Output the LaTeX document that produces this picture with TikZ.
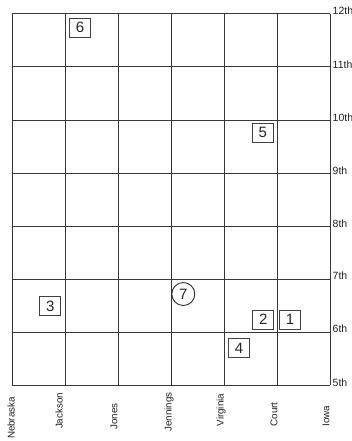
\documentclass[tikz,border=0pt]{standalone}
\usepackage{fontspec}
\setmainfont{Liberation Sans}
\begin{document}
\begin{tikzpicture}[x=1pt,y=-1pt,
  gridline/.style={draw=black!78, line width=1pt},
  numbox/.style={draw=black!75, line width=0.9pt, rectangle, minimum width=21pt, minimum height=19pt, inner sep=0pt, font=\fontsize{15}{15}\selectfont, text=black!85},
  numcirc/.style={draw=black!82, line width=0.9pt, circle, minimum size=23pt, inner sep=0pt, font=\fontsize{15}{15}\selectfont, text=black!85},
  avelabel/.style={anchor=west, inner sep=0pt, font=\fontsize{10.5}{11}\selectfont, text=black!88},
  stlabel/.style={rotate=90, inner sep=0pt, font=\fontsize{9.8}{10}\selectfont, text=black!88}]
\useasboundingbox (0,0) rectangle (351,441);
\foreach \i in {0,...,6} \draw[gridline] (12+53*\i,14) -- (12+53*\i,385);
\foreach \j in {0,...,7} \draw[gridline] (12,14+53*\j) -- (330,14+53*\j);
% avenue labels
\node[avelabel] (a12) at (332.5,11) {12th};
\node[avelabel] (a11) at (332.5,65) {11th};
\node[avelabel] (a10) at (332.5,118) {10th};
\node[avelabel] (a9) at (332.5,171) {9th};
\node[avelabel] (a8) at (332.5,224) {8th};
\node[avelabel] (a7) at (332.5,276) {7th};
\node[avelabel] (a6) at (332.5,329) {6th};
\node[avelabel] (a5) at (332.5,383) {5th};
% street labels
\node[stlabel] (nebraska) at (11,418) {Nebraska};
\node[stlabel] (jackson) at (59,411) {Jackson};
\node[stlabel] (jones) at (114,416.5) {Jones};
\node[stlabel] (jennings) at (169,412) {Jennings};
\node[stlabel] (virginia) at (221,410) {Virginia};
\node[stlabel] (court) at (274,414.5) {Court};
\node[stlabel] (iowa) at (326,416) {Iowa};
% numbered markers
\node[numbox] (n1) at (290,319.7) {1};
\node[numbox] (n2) at (263.3,319.7) {2};
\node[numbox] (n3) at (50.3,306) {3};
\node[numbox] (n4) at (239,348) {4};
\node[numbox] (n5) at (262.7,132.5) {5};
\node[numbox] (n6) at (80,27.5) {6};
\node[numcirc] (n7) at (183.3,294) {7};
\end{tikzpicture}
\end{document}
